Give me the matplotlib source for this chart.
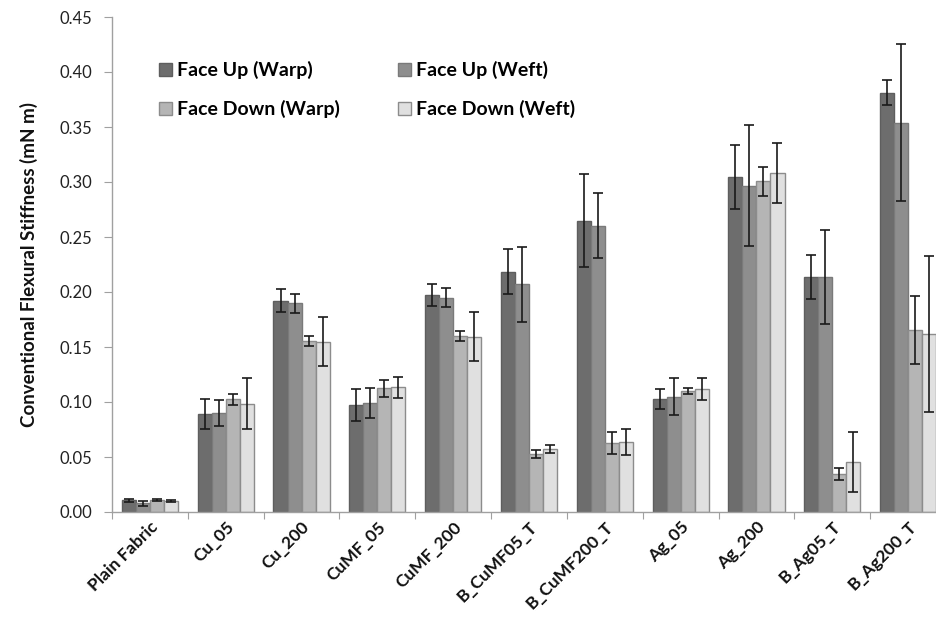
import numpy as np
import matplotlib
matplotlib.use("Agg")
import matplotlib.pyplot as plt
import matplotlib.transforms as mtransforms

plt.rcParams['font.family'] = ['Lato', 'DejaVu Sans']

categories = ["Plain Fabric", "Cu_05", "Cu_200", "CuMF_05", "CuMF_200",
              "B_CuMF05_T", "B_CuMF200_T", "Ag_05", "Ag_200", "B_Ag05_T", "B_Ag200_T"]

series_names = ["Face Up (Warp)", "Face Up (Weft)", "Face Down (Warp)", "Face Down (Weft)"]

face_up_warp = [0.0105, 0.0888, 0.1921, 0.0973, 0.1973, 0.2185, 0.2648, 0.1027, 0.3042, 0.2136, 0.3810]
face_up_weft = [0.0078, 0.0900, 0.1897, 0.0994, 0.1948, 0.2070, 0.2603, 0.1048, 0.2965, 0.2136, 0.3539]
face_down_warp = [0.0108, 0.1027, 0.1555, 0.1124, 0.1603, 0.0524, 0.0627, 0.1100, 0.3005, 0.0345, 0.1652]
face_down_weft = [0.0100, 0.0985, 0.1550, 0.1133, 0.1594, 0.0573, 0.0639, 0.1120, 0.3083, 0.0456, 0.1618]

err_up_warp = [0.0010, 0.0135, 0.0105, 0.0147, 0.0103, 0.0205, 0.0423, 0.0090, 0.0290, 0.0200, 0.0113]
err_up_weft = [0.0024, 0.0120, 0.0085, 0.0136, 0.0085, 0.0340, 0.0295, 0.0170, 0.0550, 0.0425, 0.0714]
err_down_warp = [0.0010, 0.0050, 0.0045, 0.0080, 0.0044, 0.0036, 0.0097, 0.0027, 0.0133, 0.0057, 0.0310]
err_down_weft = [0.0010, 0.0230, 0.0220, 0.0095, 0.0220, 0.0040, 0.0117, 0.0100, 0.0276, 0.0270, 0.0706]

y_ticks = [0.00, 0.05, 0.10, 0.15, 0.20, 0.25, 0.30, 0.35, 0.40, 0.45]

values = [face_up_warp, face_up_weft, face_down_warp, face_down_weft]
errors = [err_up_warp, err_up_weft, err_down_warp, err_down_weft]
fills = ["#6d6d6d", "#8e8e8e", "#b5b5b5", "#e0e0e0"]
edges = ["#5e5e5e", "#7a7a7a", "#8c8c8c", "#8c8c8c"]

W, H = 937, 617
fig = plt.figure(figsize=(W / 100, H / 100), dpi=100)
# axes run slightly past the right edge of the canvas
ax_left, ax_right, ax_top, ax_bottom = 112, 946, 17, 512
ax = fig.add_axes([ax_left / W, 1 - ax_bottom / H, (ax_right - ax_left) / W, (ax_bottom - ax_top) / H])

x = np.arange(len(categories))
bw = 0.185
offsets = (np.arange(4) - 1.5) * bw
handles = []
for i in range(4):
    h = ax.bar(x + offsets[i], values[i], width=bw, color=fills[i], edgecolor=edges[i],
               linewidth=1.0, label=series_names[i], zorder=2)
    handles.append(h)
    ax.errorbar(x + offsets[i], values[i], yerr=errors[i], fmt='none', ecolor="#1a1a1a",
                elinewidth=1.2, capsize=3.5, capthick=1.2, zorder=3)

ax.set_xlim(-0.5, len(categories) - 0.5)
ax.set_ylim(0, 0.45)
ax.set_yticks(y_ticks)
ax.set_yticklabels([f"{t:.2f}" for t in y_ticks], fontsize=12, color="#222222")

# category boundary ticks on the x axis
ax.set_xticks(np.arange(len(categories) + 1) - 0.5, minor=False)
ax.set_xticklabels([])
ax.set_xticks(x, minor=True)
ax.set_xticklabels(categories, minor=True, rotation=45, ha='right', rotation_mode='anchor',
                   fontsize=12.5, fontweight='bold', color="#111111")
shift = mtransforms.ScaledTranslation(4 / 100, 0, fig.dpi_scale_trans)
for lbl in ax.get_xticklabels(minor=True):
    lbl.set_transform(lbl.get_transform() + shift)
ax.tick_params(axis='x', which='minor', length=0, pad=5)
ax.tick_params(axis='x', which='major', length=5, color="#a0a0a0", direction='out')
ax.tick_params(axis='y', length=6, color="#a0a0a0", direction='out', pad=8)

for s in ['top', 'right']:
    ax.spines[s].set_visible(False)
for s in ['left', 'bottom']:
    ax.spines[s].set_color("#a0a0a0")
    ax.spines[s].set_linewidth(1.0)

ax.set_ylabel("Conventional Flexural Stiffness (mN m)", fontsize=13.5, fontweight='bold',
              color="#111111")
ax.yaxis.set_label_coords((38 - ax_left) / (ax_right - ax_left), 0.5)

# row-wise legend: Face Up on the first row, Face Down on the second
order = [0, 2, 1, 3]
ax.legend([handles[k] for k in order], [series_names[k] for k in order], ncol=2,
          loc='upper left', bbox_to_anchor=(159 / W, 1 - 61 / H),
          bbox_transform=fig.transFigure, frameon=False, borderpad=0, borderaxespad=0,
          prop={'weight': 'bold', 'size': 14}, handlelength=0.67, handleheight=0.67,
          handletextpad=0.26, columnspacing=3.0, labelspacing=1.08)

fig.savefig("out.png", dpi=100, facecolor="white")
